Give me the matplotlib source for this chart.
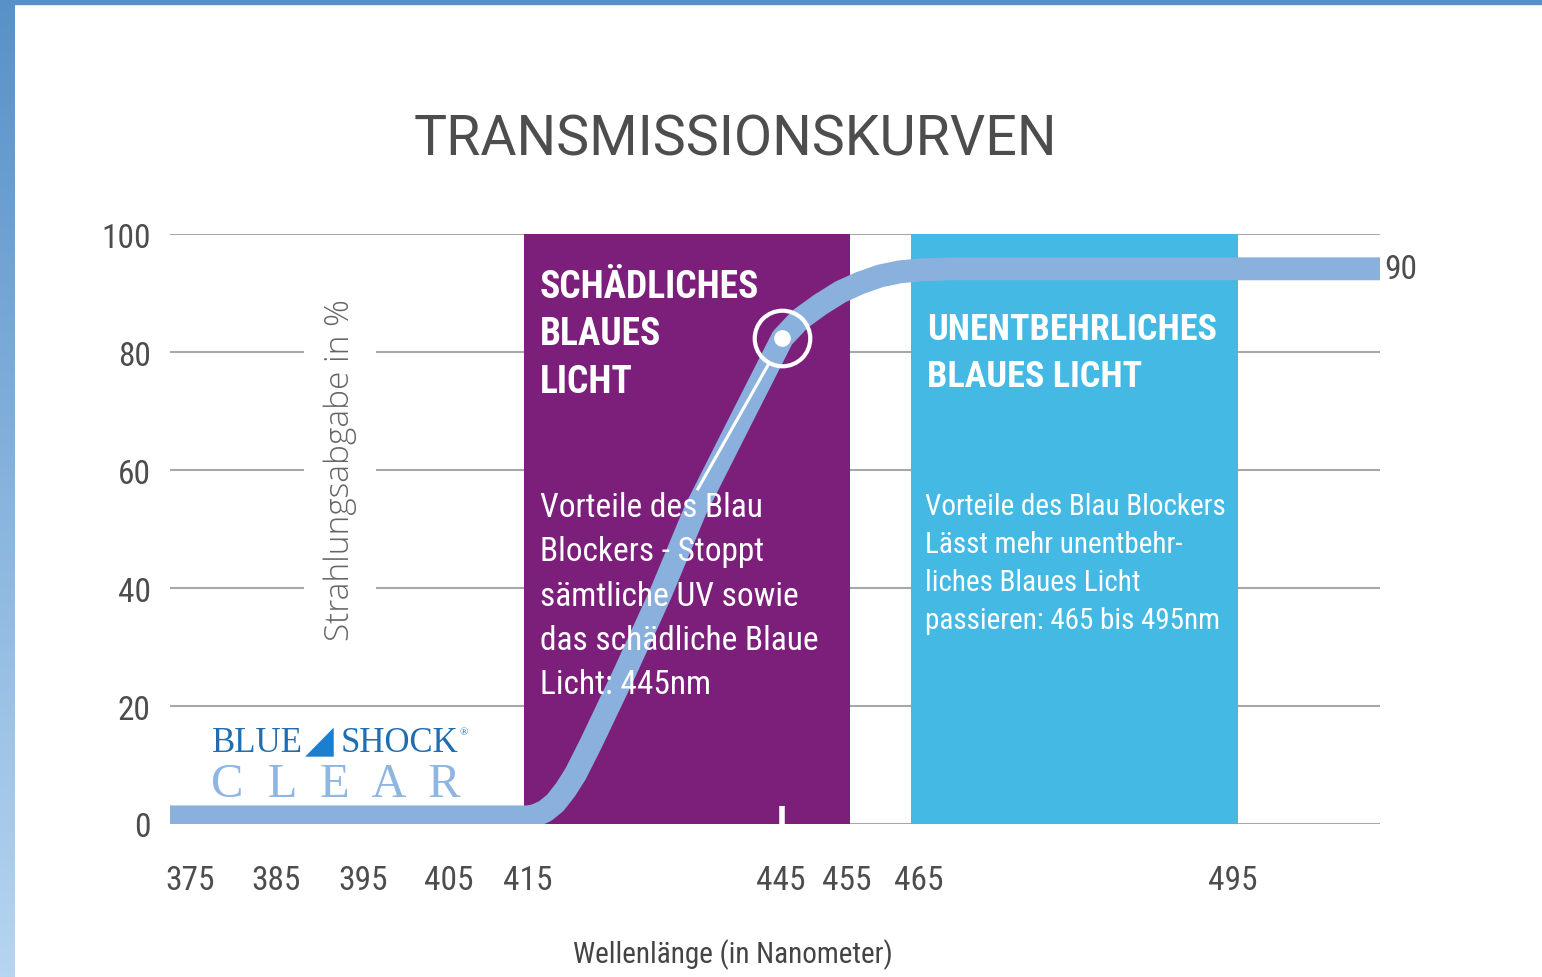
import numpy as np
import matplotlib
matplotlib.use("Agg")
import matplotlib.pyplot as plt
from matplotlib import font_manager
from matplotlib.patches import Rectangle
from matplotlib.colors import LinearSegmentedColormap

W, H = 1542, 978

# --- data ---
wavelength_ticks = [375, 385, 395, 405, 415, 445, 455, 465, 495]
percent_ticks = [0, 20, 40, 60, 80, 100]

curve_nm = [372.6, 415.0, 415.9, 417.1, 418.3, 419.5, 420.7, 422.5, 426.6,
            430.8, 434.9, 440.3, 445.3, 448.0, 451.1, 454.1, 456.9, 459.7,
            462.5, 465.2, 468.1, 509.1]
curve_pct = [1.2, 1.2, 1.4, 2.2, 3.6, 5.8, 8.5, 13.6, 25.9,
             39.1, 53.2, 68.5, 82.4, 85.6, 88.1, 90.2, 91.7, 92.9,
             93.6, 93.9, 94.1, 94.1]

harmful_band = (414.5, 455.5)
useful_band = (464.0, 495.5)
marker_nm, marker_pct = 445.3, 82.4
end_label = "90"

title = "TRANSMISSIONSKURVEN"
xlabel = "Wellenlänge (in Nanometer)"
ylabel = "Strahlungsabgabe in %"
harmful_head = ["SCHÄDLICHES", "BLAUES", "LICHT"]
harmful_body = ["Vorteile des Blau", "Blockers - Stoppt", "sämtliche UV sowie",
                "das schädliche Blaue", "Licht: 445nm"]
useful_head = ["UNENTBEHRLICHES", "BLAUES LICHT"]
useful_body = ["Vorteile des Blau Blockers", "Lässt mehr unentbehr-",
               "liches Blaues Licht", "passieren: 465 bis 495nm"]

# --- colours ---
PURPLE = "#7c1f7b"
CYAN = "#43b9e4"
CURVE = "#8ab1dd"
GRID = "#a8a8a8"
GREY = "#4d4d4d"

names = {f.name for f in font_manager.fontManager.ttflist}


def pick(*cands):
    for c in cands:
        if c in names:
            return c
    return "DejaVu Sans"


NARROW = pick("Roboto Condensed", "Liberation Sans Narrow", "Roboto")
LIGHT = pick("Open Sans", "Lato", "Roboto")
SERIF = pick("Liberation Serif", "DejaVu Serif")


def fx(x):
    return x / W


def fy(y):
    return 1 - y / H


# piecewise axis: the tick spacing on the original is not uniform
knot_nm = [300, 375, 385, 395, 405, 415, 445, 455, 465, 495, 600]
knot_pos = [-467.5, 190, 275, 363, 448, 527, 780, 846, 918, 1232, 2331]


def fwd(v):
    return np.interp(v, knot_nm, knot_pos)


def inv(v):
    return np.interp(v, knot_pos, knot_nm)


fig = plt.figure(figsize=(W / 100, H / 100), dpi=100, facecolor="white")

# frame decoration: gradient strip on the left, bar on top
strip = fig.add_axes([0, 0, 14 / W, 1])
grad = np.linspace(0, 1, 256).reshape(-1, 1)
cmap = LinearSegmentedColormap.from_list("edge", ["#5891c8", "#b6d5f1"])
strip.imshow(grad, aspect="auto", cmap=cmap, extent=[0, 1, 0, 1], origin="upper")
strip.axis("off")
fig.patches.append(Rectangle((0, fy(5)), 1, 5 / H, transform=fig.transFigure,
                             color="#5891c8", zorder=5))

ax = fig.add_axes([fx(170), fy(825), 1210 / W, 590 / H])
ax.set_xscale("function", functions=(fwd, inv))
ax.set_xlim(372.65, 509.1)
ax.set_ylim(0, 100)
for s in ax.spines.values():
    s.set_visible(False)

for v in percent_ticks:
    ax.axhline(v, color=GRID, lw=1.5, zorder=0.5)

ax.axvspan(*harmful_band, color=PURPLE, zorder=1, lw=0)
ax.axvspan(*useful_band, color=CYAN, zorder=1, lw=0)

ax.plot(curve_nm, curve_pct, color=CURVE, lw=16.5, solid_capstyle="butt",
        solid_joinstyle="round", zorder=3)

# highlighted point at 445 nm
ax.plot([marker_nm], [marker_pct], "o", ms=40, mfc="none", mec="white", mew=3, zorder=4)
ax.plot([marker_nm], [marker_pct], "o", ms=11, mfc="white", mec="white", zorder=4)
ax.plot([443.6, 435.2], [78.0, 56.8], color="white", lw=2.2, zorder=4)
ax.plot([marker_nm, marker_nm], [0, 3], color="white", lw=4, solid_capstyle="butt", zorder=4)

ax.annotate(end_label, (curve_nm[-1], curve_pct[-1]), xytext=(3, 0),
            textcoords="offset points", ha="left", va="center",
            fontsize=24, color=GREY, family=NARROW)

ax.set_xticks(wavelength_ticks)
ax.set_xticklabels([str(t) for t in wavelength_ticks])
ax.set_yticks(percent_ticks)
ax.set_yticklabels([str(t) for t in percent_ticks])
ax.tick_params(length=0, labelsize=24, labelcolor=GREY)
ax.tick_params(axis="x", pad=29)
ax.tick_params(axis="y", pad=14)
for lab in ax.get_xticklabels() + ax.get_yticklabels():
    lab.set_family(NARROW)

# titles
fig.text(fx(735), fy(156), title, ha="center", va="baseline", fontsize=40,
         color=GREY, family="Roboto")
fig.text(fx(733), fy(955), xlabel, ha="center", va="center", fontsize=21,
         color="#444444", family=NARROW)
fig.text(fx(340), fy(470), ylabel, ha="center", va="center", rotation=90,
         fontsize=24, color="#666666", family=LIGHT, fontweight="light",
         bbox=dict(facecolor="white", edgecolor="none", pad=14), zorder=2)

# band texts
for i, line in enumerate(harmful_head):
    fig.text(fx(540), fy(298 + i * 47.5), line, ha="left", va="baseline",
             fontsize=27, color="white", family=NARROW, fontweight="bold", zorder=6)
for i, line in enumerate(harmful_body):
    fig.text(fx(540), fy(517 + i * 44.3), line, ha="left", va="baseline",
             fontsize=24, color="white", family=NARROW, zorder=6)
for i, line in enumerate(useful_head):
    fig.text(fx(927), fy(340 + i * 47), line, ha="left", va="baseline",
             fontsize=26, color="white", family=NARROW, fontweight="bold", zorder=6)
for i, line in enumerate(useful_body):
    fig.text(fx(925), fy(515 + i * 38), line, ha="left", va="baseline",
             fontsize=21, color="white", family=NARROW, zorder=6)

# logo
fig.text(fx(212), fy(752), "BLUE", ha="left", va="baseline", fontsize=25,
         color="#1f6db3", family=SERIF)
fig.text(fx(305), fy(752), "\u25e2", ha="left", va="baseline", fontsize=27,
         color="#1a7fd0", family=["DejaVu Sans"])
fig.text(fx(341), fy(752), "SHOCK", ha="left", va="baseline", fontsize=25,
         color="#1f6db3", family=SERIF)
fig.text(fx(460), fy(735), "\u00ae", ha="left", va="baseline", fontsize=8,
         color="#1f6db3", family=SERIF)
fig.text(fx(211), fy(797), "C  L  E  A  R", ha="left", va="baseline", fontsize=35,
         color="#8fb5e2", family=SERIF)

fig.savefig("out.png", dpi=100, facecolor="white")
